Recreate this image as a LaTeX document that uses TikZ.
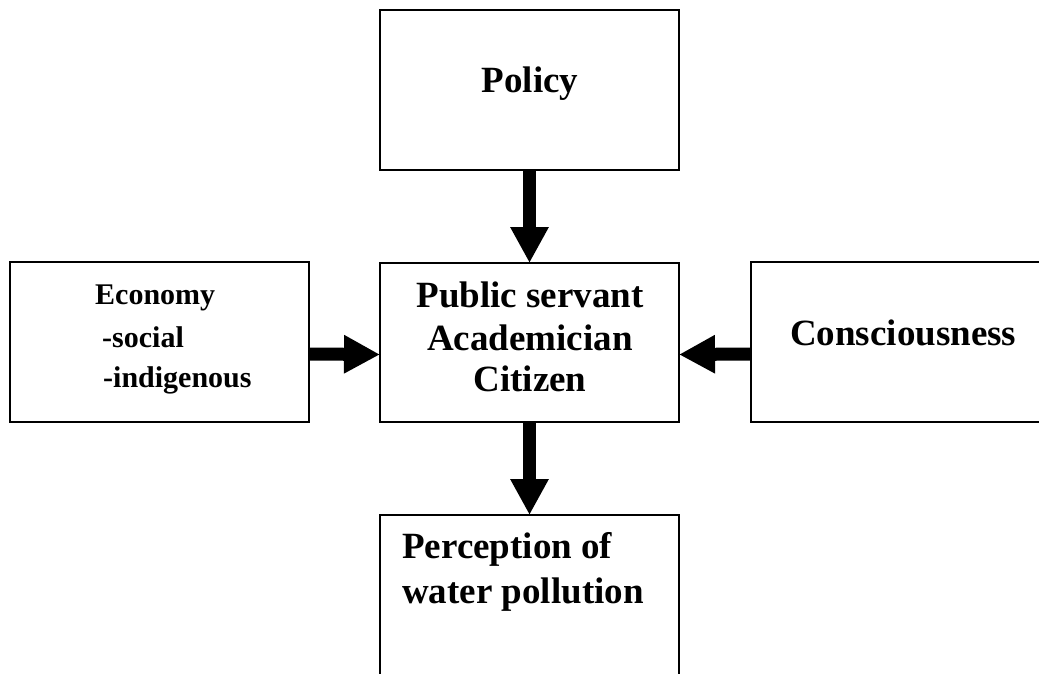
\documentclass[tikz,border=0pt]{standalone}
\usepackage{fontspec}
\setmainfont{Liberation Serif}
\usetikzlibrary{arrows.meta}
\begin{document}
\begin{tikzpicture}[x=1pt,y=-1pt,
  box/.style={draw=black,line width=1.6pt,rectangle,inner sep=0pt,outer sep=0pt},
  big/.style={font=\fontsize{37}{44}\selectfont\bfseries,inner sep=0pt,anchor=base},
  bigl/.style={big,anchor=base west},
  small/.style={font=\fontsize{30}{36}\selectfont\bfseries,inner sep=0pt,anchor=base west},
  fat/.style={line width=13pt,line cap=butt,-{Triangle[length=36pt,width=36pt]}}]
\useasboundingbox (0,0) rectangle (1039,673);
\clip (0,0) rectangle (1039,673);
\fill[white] (0,0) rectangle (1039,673);
% boxes
\node[box,minimum width=299pt,minimum height=160pt] (policy) at (529.5,90) {};
\node[box,minimum width=299pt,minimum height=159pt] (center) at (529.5,342.5) {};
\node[box,minimum width=299pt,minimum height=160pt] (econ) at (159.5,342) {};
\node[box,minimum width=300pt,minimum height=160pt] (consc) at (901,342) {};
\node[box,minimum width=299pt,minimum height=180pt] (perc) at (529.5,605) {};
% texts
\node[big] (tpolicy) at (530,92) {Policy};
\node[big] (tc1) at (530,307) {Public servant};
\node[big] (tc2) at (530,350) {Academician};
\node[big] (tc3) at (530,391) {Citizen};
\node[small] (te1) at (95,304) {Economy};
\node[small] (te2) at (102,347) {-social};
\node[small] (te3) at (103,387) {-indigenous};
\node[bigl] (tcons) at (790,345) {Consciousness};
\node[bigl] (tp1) at (402,558) {Perception of};
\node[bigl] (tp2) at (402,603) {water pollution};
% arrows
\draw[fat] (policy.south) -- (center.north);
\draw[fat] (center.south) -- (perc.north);
\draw[fat] ([yshift=-12pt]econ.east) -- ([yshift=-12pt]center.west);
\draw[fat] ([yshift=-12pt]consc.west) -- ([yshift=-12pt]center.east);
\end{tikzpicture}
\end{document}
